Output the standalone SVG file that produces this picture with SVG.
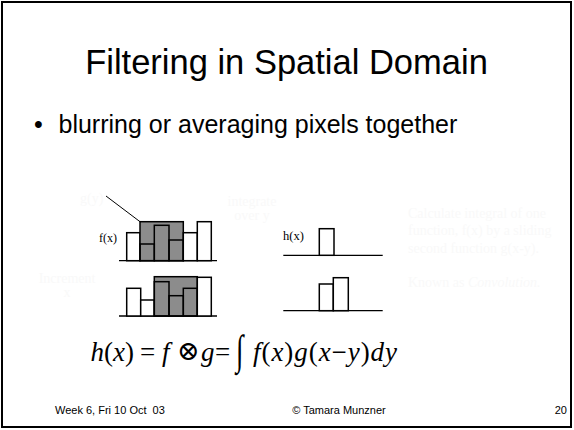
<svg xmlns="http://www.w3.org/2000/svg" width="574" height="430" viewBox="0 0 574 430">
<style>
.sans{font-family:"Liberation Sans",Arial,sans-serif;fill:#000}
.serif{font-family:"Liberation Serif","Times New Roman",serif;fill:#000}
.math{font-family:"Liberation Serif","DejaVu Serif",serif;font-size:27px;fill:#000}
.it{font-style:italic}
.faint{font-family:"Liberation Serif","Times New Roman",serif;fill:#f9f9f9;font-size:14px}
.bar{fill:#fff;stroke:#000;stroke-width:1.5}
.gbar{fill:none;stroke:#000;stroke-width:1.5}
.grey{fill:#8c8c8c;stroke:#000;stroke-width:1.5}
.axis{stroke:#000;stroke-width:1.3;fill:none}
</style>
<rect x="0" y="0" width="574" height="430" fill="#fff"/>
<rect x="2" y="2" width="569" height="425" fill="none" stroke="#000" stroke-width="2"/>

<g id="title">
<text class="sans" x="286.5" y="74" font-size="34.5" text-anchor="middle">Filtering in Spatial Domain</text>
</g>
<g id="bullet">
<text class="sans" x="34" y="133" font-size="25">•</text>
<text class="sans" x="58.5" y="133" font-size="25">blurring or averaging pixels together</text>
</g>

<g id="f-top">
<line class="axis" x1="119" y1="260.7" x2="217" y2="260.7"/>
<rect class="bar" x="126.7" y="232.7" width="13.3" height="28"/>
<rect class="grey" x="140" y="221.7" width="43.3" height="39"/>
<rect class="gbar" x="140" y="244" width="14.3" height="16.7"/>
<rect class="gbar" x="154.3" y="225.3" width="14.7" height="35.4"/>
<rect class="gbar" x="169" y="240" width="14.3" height="20.7"/>
<rect class="bar" x="183.3" y="232.7" width="14" height="28"/>
<rect class="bar" x="197.3" y="221.7" width="14" height="39"/>
<text class="serif" x="99" y="242" font-size="12">f(x)</text>
</g>

<g id="f-bottom">
<line class="axis" x1="119" y1="316" x2="217" y2="316"/>
<rect class="bar" x="126.7" y="288.3" width="14" height="27.7"/>
<rect class="bar" x="140.7" y="300" width="13.6" height="16"/>
<rect class="grey" x="154.3" y="276.7" width="43" height="39.3"/>
<rect class="gbar" x="154.3" y="281.7" width="14.7" height="34.3"/>
<rect class="gbar" x="169" y="295.7" width="14.3" height="20.3"/>
<rect class="gbar" x="183.3" y="288.3" width="14" height="27.7"/>
<rect class="bar" x="197.3" y="277.3" width="14" height="38.7"/>
</g>

<g id="h-top">
<line class="axis" x1="283.3" y1="255.3" x2="382.7" y2="255.3"/>
<rect class="bar" x="319.3" y="228.7" width="14.7" height="26.6"/>
<text class="serif" x="283" y="240" font-size="12.5">h(x)</text>
</g>

<g id="h-bottom">
<line class="axis" x1="283.3" y1="310.7" x2="382.7" y2="310.7"/>
<rect class="bar" x="319.3" y="284" width="14" height="26.7"/>
<rect class="bar" x="333.3" y="277.7" width="15" height="33"/>
</g>

<g id="faint-notes">
<text class="faint" x="80" y="203" font-size="12">g(y)</text>
<text class="faint" x="252" y="206" font-size="13" text-anchor="middle">integrate</text>
<text class="faint" x="252" y="220" font-size="13" text-anchor="middle">over y</text>
<text class="faint" x="67" y="283" font-size="13" text-anchor="middle">Increment</text>
<text class="faint" x="67" y="297" font-size="13" text-anchor="middle">x</text>
<text class="faint" x="408" y="218">Calculate integral of one</text>
<text class="faint" x="408" y="235">function, f(x) by a sliding</text>
<text class="faint" x="408" y="253">second function g(x-y).</text>
<text class="faint" x="408" y="287">Known as <tspan font-style="italic">Convolution.</tspan></text>
</g>

<g id="formula">
<text class="math" x="90.5" y="361" textLength="43.5" lengthAdjust="spacing"><tspan class="it">h</tspan>(<tspan class="it">x</tspan>)</text>
<text class="math" x="140" y="361">=</text>
<text class="math it" x="162" y="361">f</text>
<text class="math" x="177" y="360" font-size="15">⊗</text>
<text class="math it" x="201" y="361">g</text>
<text class="math" x="215" y="361">=</text>
<text class="math" transform="translate(236,364) scale(1,1.55)" font-size="30">∫</text>
<text class="math" x="253" y="361" textLength="144" lengthAdjust="spacing"><tspan class="it">f</tspan>(<tspan class="it">x</tspan>)<tspan class="it">g</tspan>(<tspan class="it">x</tspan>−<tspan class="it">y</tspan>)<tspan class="it">dy</tspan></text>
</g>

<g id="connectors">
<line x1="106" y1="196" x2="140" y2="221.7" stroke="#000" stroke-width="1"/>
</g>

<g id="footer">
<text class="sans" x="55" y="414" font-size="11" style="white-space:pre">Week 6, Fri 10 Oct  03</text>
<text class="sans" x="339" y="414" font-size="11" text-anchor="middle">© Tamara Munzner</text>
<text class="sans" x="567" y="414" font-size="11" text-anchor="end">20</text>
</g>
</svg>
